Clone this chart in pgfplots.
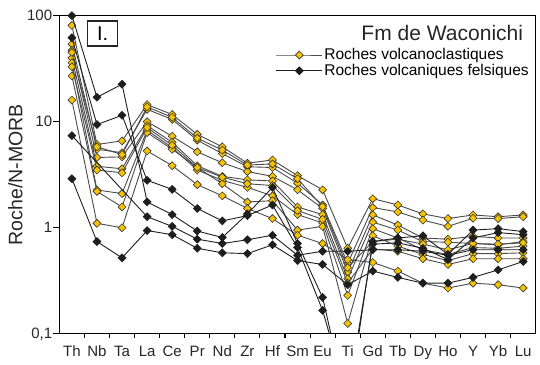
\documentclass[border=0pt]{standalone}
\usepackage{fontspec}
\setmainfont{Liberation Sans}
\usepackage{pgfplots}
\pgfplotsset{compat=1.18}
\usetikzlibrary{calc}
\definecolor{ygold}{HTML}{F7C300}
\definecolor{ygray}{HTML}{4A4A4A}
\definecolor{bdark}{HTML}{1E1E1E}
\begin{document}
\begin{tikzpicture}
\begin{axis}[
  scale only axis,
  width=475.7pt, height=317.6pt,
  ymode=log, ymin=0.1, ymax=100,
  xmin=-0.5, xmax=18.5,
  axis line style={line width=1.4pt},
  xtick={0,...,18},
  xticklabels={Th,Nb,Ta,La,Ce,Pr,Nd,Zr,Hf,Sm,Eu,Ti,Gd,Tb,Dy,Ho,Y,Yb,Lu},
  minor xtick={0.5,1.5,...,17.5},
  xtick style={draw=none},
  minor x tick style={draw=black, line width=1.1pt},
  minor tick length=4.5pt,
  ytick={0.1,1,10,100},
  yticklabels={{0,1},1,10,100},
  yminorticks=false,
  ytick style={line width=1.1pt, black},
  major tick length=6pt,
  tick align=outside,
  xtick pos=bottom, ytick pos=left,
  tick label style={font=\fontsize{15}{15}\selectfont, text=black!85},
  xticklabel style={yshift=-2.5pt},
  yticklabel style={inner sep=1pt},
  ylabel={Roche/N-MORB},
  ylabel style={font=\fontsize{19.5}{19.5}\selectfont, text=black!85},
  clip mode=individual,
  legend style={draw=none, fill=none, at={(0.452,0.905)}, anchor=north west,
    font=\fontsize{15.5}{15.5}\selectfont, row sep=0pt, inner sep=1pt,
    nodes={inner sep=1.5pt}},
  legend cell align=left,
  legend image code/.code={\draw[mark repeat=2,mark phase=2,#1] plot coordinates {(0pt,0pt) (23pt,0pt) (46pt,0pt)};},
  yel/.style={color=ygray, line width=0.9pt, mark=square*, mark size=2.8pt,
    mark options={fill=ygold, draw=black!80, line width=0.6pt, solid, rotate=45}},
  blk/.style={color=bdark, line width=0.9pt, mark=square*, mark size=2.8pt,
    mark options={fill=bdark, draw=bdark, line width=0.6pt, solid, rotate=45}},
]
\coordinate (SW) at (rel axis cs:0,0);
\coordinate (NE) at (rel axis cs:1,1);
% volcanoclastic rocks (yellow)
\addplot[yel] coordinates {(0,81) (1,6.1) (2,6.6) (3,14.5) (4,11.7) (5,7.6) (6,5.8) (7,4.06) (8,4.36) (9,3.1) (10,2.28) (11,0.64) (12,1.88) (13,1.64) (14,1.35) (15,1.22) (16,1.32) (17,1.27) (18,1.32)};
\addlegendentry{Roches volcanoclastiques}
\addplot[yel, forget plot] coordinates {(0,54) (1,5.5) (2,5.1) (3,13.1) (4,10.5) (5,6.7) (6,5.0) (7,3.76) (8,3.7) (9,2.63) (10,1.64) (11,0.46) (12,1.55) (13,1.41) (14,1.18) (15,1.03) (16,1.23) (17,1.22) (18,1.27)};
\addplot[yel, forget plot] coordinates {(0,47) (1,4.6) (2,4.66) (3,10.0) (4,7.3) (5,5.2) (6,4.1) (7,3.39) (8,3.05) (9,2.28) (10,1.52) (11,0.38) (12,1.32) (13,1.06) (14,0.80) (15,0.78) (16,0.83) (17,0.80) (18,0.80)};
\addplot[yel, forget plot] coordinates {(0,40) (1,3.8) (2,3.6) (3,9.2) (4,6.4) (5,3.85) (6,3.05) (7,2.83) (8,2.76) (9,1.57) (10,1.33) (11,0.33) (12,1.13) (13,0.95) (14,0.74) (15,0.73) (16,0.71) (17,0.69) (18,0.74)};
\addplot[yel, forget plot] coordinates {(0,36) (1,2.27) (2,2.1) (3,8.3) (4,5.7) (5,3.5) (6,2.8) (7,2.4) (8,2.0) (9,1.33) (10,1.11) (11,0.23) (12,0.98) (13,0.80) (14,0.62) (15,0.56) (16,0.65) (17,0.64) (18,0.67)};
\addplot[yel, forget plot] coordinates {(0,27) (1,2.2) (2,1.57) (3,7.9) (4,5.5) (5,3.7) (6,2.6) (7,1.75) (8,1.8) (9,0.95) (10,1.03) (11,0.125) (12,0.84) (13,0.67) (14,0.56) (15,0.49) (16,0.57) (17,0.57) (18,0.58)};
\addplot[yel, forget plot] coordinates {(0,16) (1,1.1) (2,1.0) (3,5.3) (4,3.85) (5,2.55) (6,2.0) (7,1.52) (8,1.22) (9,0.85) (10,0.71) (11,0.50) (12,0.47) (13,0.39) (14,0.30) (15,0.27) (16,0.30) (17,0.29) (18,0.27)};
\addplot[yel, forget plot] coordinates {(0,45) (1,5.8) (2,4.9) (3,13.8) (4,11.0) (5,7.0) (6,5.4) (7,3.9) (8,4.0) (9,2.9) (10,1.58) (11,0.42) (12,0.74) (13,0.78) (14,0.70) (15,0.62) (16,0.71) (17,0.70) (18,0.72)};
\addplot[yel, forget plot] coordinates {(0,33) (1,3.5) (2,3.3) (3,8.8) (4,6.0) (5,3.7) (6,3.0) (7,2.6) (8,2.5) (9,1.45) (10,1.2) (11,0.30) (12,0.63) (13,0.60) (14,0.51) (15,0.45) (16,0.51) (17,0.51) (18,0.51)};
% felsic volcanic rocks (black)
\addplot[blk] coordinates {(0,100) (1,17) (2,22.6) (3,1.75) (4,1.33) (5,0.93) (6,0.81) (7,1.35) (8,2.4) (9,0.71) (10,0.22) (11,0.02) (12,0.74) (13,0.80) (14,0.84) (15,0.56) (16,0.95) (17,0.98) (18,0.92)};
\addlegendentry{Roches volcaniques felsiques}
\addplot[blk, forget plot] coordinates {(0,62) (1,9.4) (2,11.5) (3,2.8) (4,2.3) (5,1.52) (6,1.16) (7,1.3) (8,1.64) (9,0.65) (10,0.166) (11,0.025) (12,0.70) (13,0.72) (14,0.64) (15,0.50) (16,0.80) (17,0.90) (18,0.86)};
\addplot[blk, forget plot] coordinates {(0,7.4) (3,1.27) (4,1.03) (5,0.78) (6,0.71) (7,0.77) (8,0.85) (9,0.55) (10,0.60) (11,0.60) (12,0.62) (13,0.62) (14,0.60) (15,0.55) (16,0.62) (17,0.62) (18,0.62)};
\addplot[blk, forget plot] coordinates {(0,2.9) (1,0.74) (2,0.52) (3,0.94) (4,0.86) (5,0.64) (6,0.58) (7,0.57) (8,0.69) (9,0.49) (10,0.45) (11,0.29) (12,0.39) (13,0.34) (14,0.30) (15,0.30) (16,0.34) (17,0.40) (18,0.48)};
\node[anchor=east, font=\fontsize{21}{21}\selectfont, text=black!85] at (rel axis cs:0.981,0.945) {Fm de Waconichi};
\node[draw=black!85, line width=1.2pt, minimum width=29.6pt, minimum height=25pt, inner sep=0pt, fill=white,
  font=\fontsize{20}{20}\selectfont] at (rel axis cs:0.0908,0.944) {I.};
\end{axis}
\pgfresetboundingbox
\path (SW) ++(-59.3pt,-30.7pt) rectangle ($(NE)+(4.3pt,15.7pt)$);
\end{tikzpicture}
\end{document}
